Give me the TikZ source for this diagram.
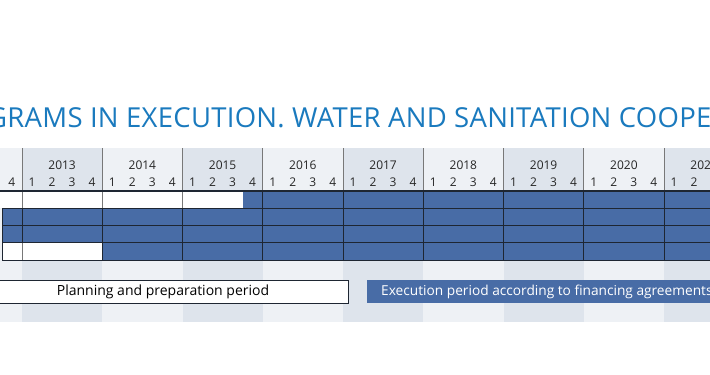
\documentclass[tikz,border=0pt]{standalone}
\usepackage{fontspec}
\setmainfont{Open Sans}
\newfontfamily\titlefont[LetterSpace=1]{Open Sans}
\definecolor{barblue}{RGB}{72,108,166}
\definecolor{titleblue}{RGB}{26,122,190}
\definecolor{stripeA}{RGB}{238,241,245}
\definecolor{stripeB}{RGB}{222,228,236}
\definecolor{darkline}{RGB}{30,38,50}
\definecolor{greyline}{RGB}{120,120,120}
\begin{document}
\begin{tikzpicture}[x=1pt,y=-1pt,
  yearlbl/.style={font=\fontsize{12}{14}\selectfont, text=black!85, inner sep=0pt},
  qlbl/.style={font=\fontsize{12}{14}\selectfont, text=black!85, inner sep=0pt},
  darkrule/.style={draw=darkline, line width=1pt},
  greyrule/.style={draw=greyline, line width=1pt},
  barfill/.style={fill=barblue},
  legendtxt/.style={font=\fontsize{14}{16}\selectfont, inner sep=0pt}]
\useasboundingbox (0,0) rectangle (710,375);
\clip (0,0) rectangle (710,375);
\fill[white] (0,0) rectangle (710,375);
% title
\node[anchor=base west, inner sep=0pt, text=titleblue, font=\titlefont\fontsize{27.5}{32}\selectfont] (title) at (-13,127) {GRAMS IN EXECUTION. WATER AND SANITATION COOPE};
% stripes
\def\yw{80.25}
\foreach \i/\yr in {0/2012,1/2013,2/2014,3/2015,4/2016,5/2017,6/2018,7/2019,8/2020,9/2021}{
  \pgfmathsetmacro{\xa}{22+(\i-1)*\yw}
  \pgfmathsetmacro{\xb}{\xa+\yw}
  \pgfmathtruncatemacro{\odd}{mod(\i,2)}
  \ifnum\odd=1 \fill[stripeB] (\xa,148) rectangle (\xb,322);
  \else \fill[stripeA] (\xa,148) rectangle (\xb,322); \fi
  \pgfmathsetmacro{\xc}{\xa+\yw/2}
  \node[yearlbl, anchor=base] (y\yr) at (\xc,169.5) {\yr};
  \foreach \q in {1,2,3,4}{
    \pgfmathsetmacro{\xq}{\xa+20*(\q-0.5)}
    \node[qlbl, anchor=base] (q\yr\q) at (\xq,186) {\q};
  }
}
% rows
\fill[white] (-1,191) rectangle (243,208.3);
\fill[barblue] (243,191) rectangle (711,208.3);
\fill[barblue] (2,208.3) rectangle (711,242.8);
\fill[white] (2,242.8) rectangle (102,260);
\fill[barblue] (102,242.8) rectangle (711,260);
% vertical separators in header
\foreach \i in {1,...,9}{
  \pgfmathsetmacro{\xs}{22+(\i-1)*\yw}
  \draw[greyrule] (\xs,148) -- (\xs,191);
}
% row 1 separators
\foreach \xs in {22,102.25,182.5}{\draw[greyrule] (\xs,191) -- (\xs,208.3);}
\foreach \i in {4,...,9}{\pgfmathsetmacro{\xs}{22+(\i-1)*\yw}\draw[darkrule] (\xs,191) -- (\xs,208.3);}
% rows 2-3
\foreach \i in {1,...,9}{\pgfmathsetmacro{\xs}{22+(\i-1)*\yw}\draw[darkrule] (\xs,208.3) -- (\xs,242.8);}
% row 4
\draw[greyrule] (22,242.8) -- (22,260);
\foreach \i in {2,...,9}{\pgfmathsetmacro{\xs}{22+(\i-1)*\yw}\draw[darkrule] (\xs,242.8) -- (\xs,260);}
% horizontal rules
\foreach \yy in {208.3,225.6,242.8,260}{\draw[darkrule] (2,\yy) -- (711,\yy);}
\draw[darkrule] (2,208.3) -- (2,260);
\draw[draw=darkline, line width=1.6pt] (-1,191) -- (711,191);
% legend
\node[draw=darkline, line width=1pt, fill=white, minimum width=349pt, minimum height=23pt, inner sep=0pt, anchor=north west] (plan) at (-1,280) {};
\node[legendtxt, anchor=center] (plantxt) at (163,291.5) {Planning and preparation period};
\fill[barblue] (367,279.5) rectangle (711,303);
\node[legendtxt, text=white, anchor=west, font=\fontsize{13.7}{16}\selectfont] (exectxt) at (381,291.5) {Execution period according to financing agreements};
\end{tikzpicture}
\end{document}
